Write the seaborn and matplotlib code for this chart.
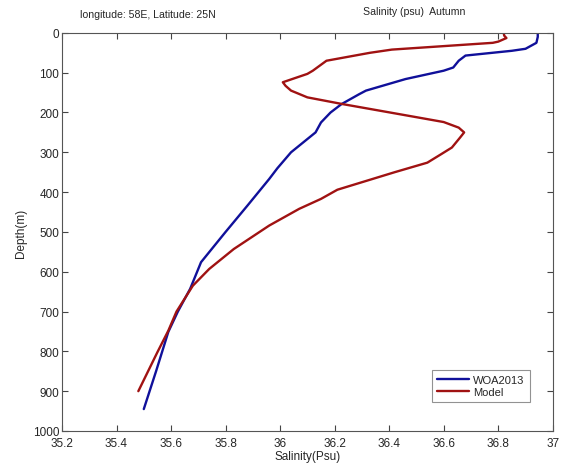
import numpy as np
import pandas as pd
import matplotlib
matplotlib.use("Agg")
import matplotlib.pyplot as plt
import seaborn as sns

# WOA2013 climatology profile (depth m, salinity psu)
woa_depth = [0, 10, 25, 40, 45, 57, 70, 87, 95, 116, 145, 154, 179, 200, 225,
             250, 300, 340, 367, 434, 500, 576, 643, 700, 751, 850, 945]
woa_sal = [36.945, 36.945, 36.94, 36.90, 36.85, 36.68, 36.655, 36.635, 36.60,
           36.46, 36.315, 36.29, 36.225, 36.185, 36.15, 36.13, 36.04, 35.99,
           35.96, 35.88, 35.80, 35.71, 35.67, 35.625, 35.59, 35.545, 35.50]

# model profile
mod_depth = [0, 7, 13, 22, 25, 42, 50, 70, 95, 103, 124, 133, 145, 162, 179,
             213, 224, 238, 250, 263, 288, 305, 326, 350, 394, 417, 442, 484,
             543, 593, 635, 700, 748, 802, 900]
mod_sal = [36.82, 36.822, 36.83, 36.80, 36.78, 36.41, 36.33, 36.17, 36.12,
           36.10, 36.01, 36.02, 36.04, 36.10, 36.23, 36.51, 36.60, 36.655,
           36.675, 36.66, 36.63, 36.59, 36.54, 36.42, 36.21, 36.15, 36.07,
           35.96, 35.83, 35.74, 35.68, 35.62, 35.59, 35.55, 35.48]

df = pd.concat([
    pd.DataFrame({"depth": woa_depth, "sal": woa_sal, "src": "WOA2013"}),
    pd.DataFrame({"depth": mod_depth, "sal": mod_sal, "src": "Model"}),
], ignore_index=True)

sns.set_style("ticks")
plt.rcParams['font.family'] = ['Liberation Sans', 'DejaVu Sans']

fig = plt.figure(figsize=(5.74, 4.64), dpi=100)
ax = fig.add_axes([0.108, 0.069, 0.855, 0.858])

sns.lineplot(data=df, x="sal", y="depth", hue="src", orient="y", sort=False,
             estimator=None, palette={"WOA2013": "#10109a", "Model": "#a01212"},
             linewidth=1.7, ax=ax)

ax.set_xlim(35.2, 37)
ax.set_ylim(1000, 0)
ax.set_xticks(np.arange(35.2, 37.01, 0.2))
ax.set_xticklabels(["35.2", "35.4", "35.6", "35.8", "36", "36.2", "36.4",
                    "36.6", "36.8", "37"])
ax.set_yticks(np.arange(0, 1001, 100))
ax.tick_params(direction="in", top=True, right=True, labelsize=8.5,
               length=4, width=0.8, color="#444444")
ax.tick_params(axis="x", pad=4)
ax.tick_params(axis="y", pad=2)
for s in ax.spines.values():
    s.set_visible(True)
    s.set_color("#555555")
    s.set_linewidth(0.8)

ax.set_xlabel("Salinity(Psu)", fontsize=8.5, labelpad=1)
ax.set_ylabel("Depth(m)", fontsize=8.5, labelpad=4)

leg = ax.legend(loc="lower right", bbox_to_anchor=(0.953, 0.073),
                borderaxespad=0, fontsize=8, frameon=True, fancybox=False,
                edgecolor="#777777", handlelength=2.9, handletextpad=0.4,
                borderpad=0.45, labelspacing=0.15)
leg.get_frame().set_linewidth(0.8)

fig.text(80 / 574, 1 - 15 / 464, "longitude: 58E, Latitude: 25N", fontsize=7.6,
         va="center", ha="left")
fig.text(363 / 574, 1 - 12 / 464, "Salinity (psu)  Autumn", fontsize=7.6,
         va="center", ha="left")

fig.savefig("out.png", dpi=100)
